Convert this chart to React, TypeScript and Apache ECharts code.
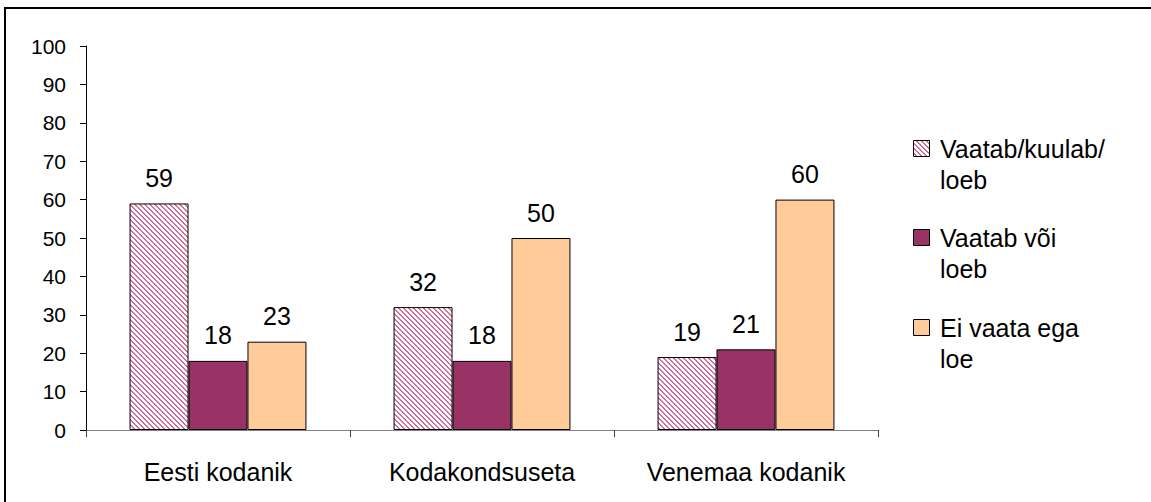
import React, { useEffect, useRef } from "react";
import * as echarts from "echarts";

const categories = ["Eesti kodanik", "Kodakondsuseta", "Venemaa kodanik"];
const seriesNames = ["Vaatab/kuulab/ loeb", "Vaatab või loeb", "Ei vaata ega loe"];
const legendLines = [
  ["Vaatab/kuulab/", "loeb"],
  ["Vaatab või", "loeb"],
  ["Ei vaata ega", "loe"],
];
const valuesListen = [59, 32, 19];
const valuesWatch = [18, 18, 21];
const valuesNone = [23, 50, 60];
const yTicks = { min: 0, max: 100, interval: 10 };

const FONT = "Liberation Sans";

function makeHatch(): any {
  const c = document.createElement("canvas");
  const n = 5;
  c.width = n;
  c.height = n;
  const ctx = c.getContext("2d")!;
  ctx.fillStyle = "#ffffff";
  ctx.fillRect(0, 0, n, n);
  ctx.fillStyle = "#D070A0";
  for (let x = 0; x < n; x++) {
    for (let y = 0; y < n; y++) {
      if ((((x - y) % n) + n) % n < 2) ctx.fillRect(x, y, 1, 1);
    }
  }
  return { image: c, repeat: "repeat" };
}

export default function App() {
  const ref = useRef<HTMLDivElement>(null);
  useEffect(() => {
    if (!ref.current) return;
    const chart = echarts.init(ref.current, undefined, { renderer: "svg" });
    const hatch = makeHatch();
    const fills = [hatch, "#993366", "#FFCC99"];
    const data = [valuesListen, valuesWatch, valuesNone];

    const legendGraphics: any[] = [];
    const legendTop = [140, 229, 319];
    legendLines.forEach((lines, i) => {
      legendGraphics.push({
        type: "rect",
        shape: { x: 913.5, y: legendTop[i] + 0.5, width: 16, height: 16 },
        style: { fill: i === 0 ? makeHatch() : fills[i], stroke: "#000", lineWidth: 1 },
      });
      lines.forEach((t, j) => {
        legendGraphics.push({
          type: "text",
          x: 940,
          y: legendTop[i] + 9 + j * 31,
          style: {
            text: t,
            font: `25px "${FONT}"`,
            fill: "#000",
            textVerticalAlign: "middle",
            verticalAlign: "middle",
          },
        });
      });
    });

    chart.setOption({
      animation: false,
      textStyle: { fontFamily: FONT },
      grid: { left: 86, top: 46, right: 273, bottom: 72, containLabel: false },
      xAxis: {
        type: "category",
        data: categories,
        axisLine: { lineStyle: { color: "#808080", width: 1 } },
        axisTick: { show: true, length: 7, interval: 0, lineStyle: { color: "#404040" } },
        axisLabel: { color: "#000", fontSize: 25, fontFamily: FONT, margin: 29, interval: 0 },
      },
      yAxis: {
        type: "value",
        min: yTicks.min,
        max: yTicks.max,
        interval: yTicks.interval,
        axisLine: { show: true, lineStyle: { color: "#000", width: 1 } },
        axisTick: { show: true, length: 6, lineStyle: { color: "#000" } },
        axisLabel: { color: "#000", fontSize: 21, fontFamily: FONT, margin: 20 },
        splitLine: { show: false },
      },
      series: data.map((d, i) => ({
        name: seriesNames[i],
        type: "bar",
        data: d,
        barGap: "0%",
        barCategoryGap: "33%",
        itemStyle: { color: fills[i], borderColor: "#000", borderWidth: 1 },
        label: {
          show: true,
          position: "top",
          distance: 13,
          color: "#000",
          fontSize: 25,
          fontFamily: FONT,
        },
      })),
      graphic: [
        {
          type: "rect",
          shape: { x: 5, y: 8, width: 1200, height: 600 },
          style: { fill: "none", stroke: "#000", lineWidth: 2 },
          silent: true,
        },
        ...legendGraphics,
      ],
    });
    return () => chart.dispose();
  }, []);
  return (
    <div
      ref={ref}
      style={{ position: "fixed", left: 0, top: 0, width: 1151, height: 502, background: "#fff" }}
    />
  );
}
